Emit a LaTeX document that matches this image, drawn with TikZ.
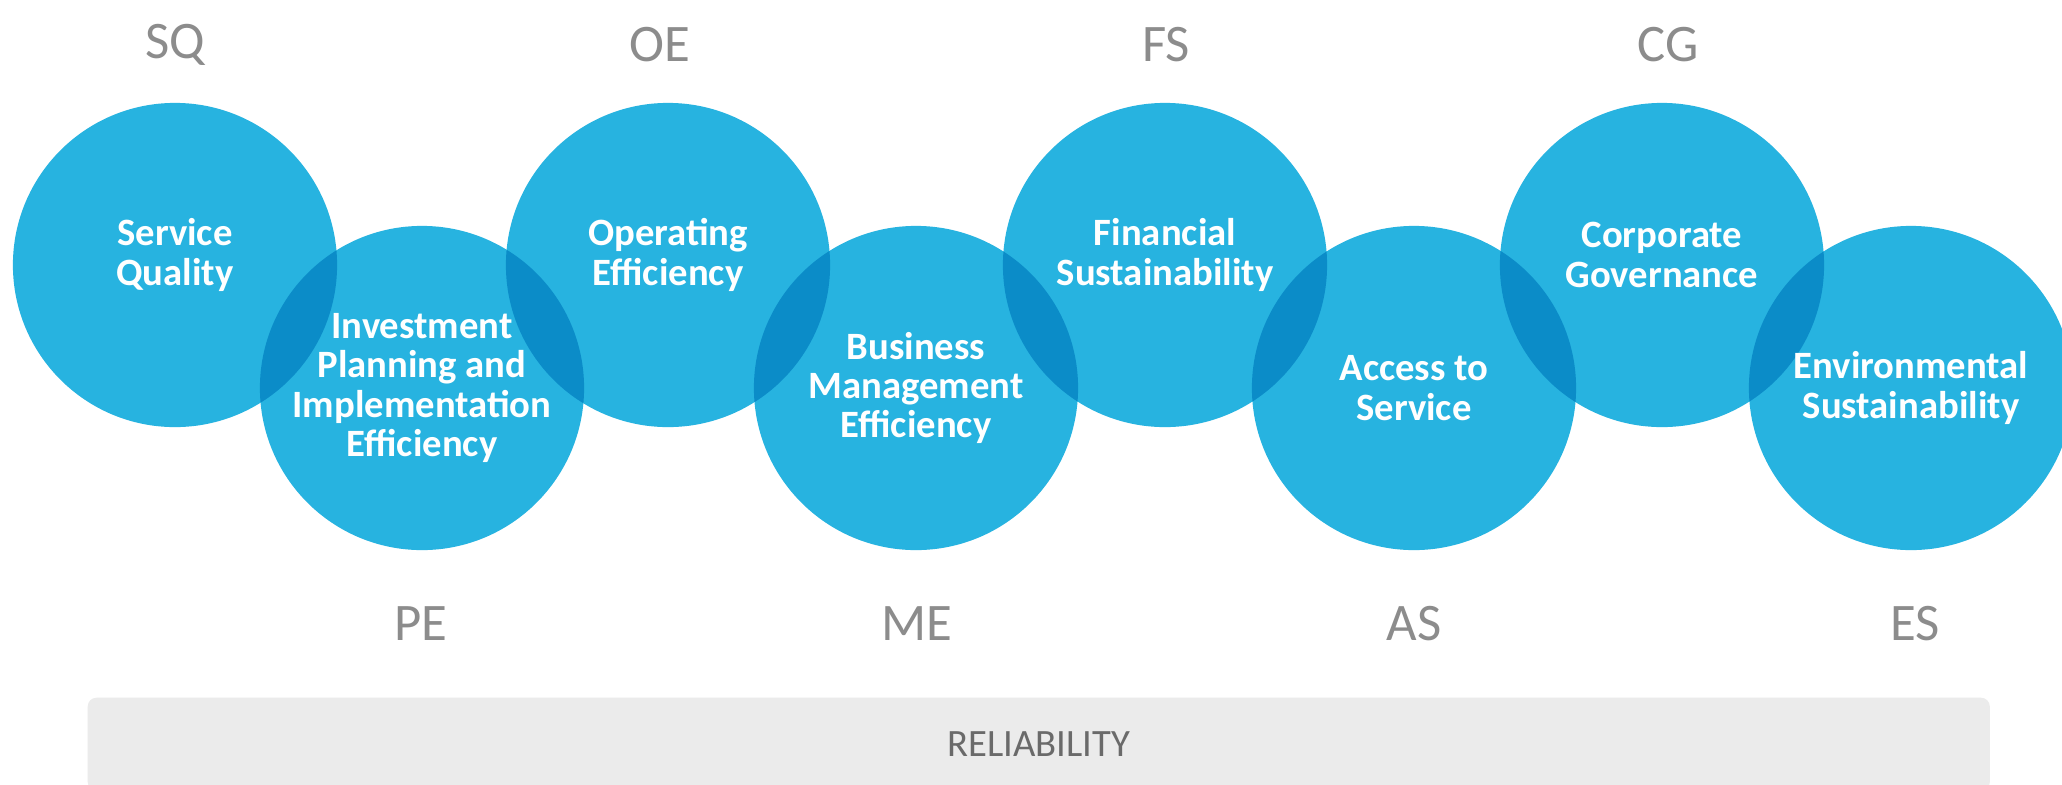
\documentclass[tikz,border=0pt]{standalone}
\usepackage{fontspec}
\setmainfont{Carlito}
\definecolor{cblue}{HTML}{27B3E0}
\definecolor{cdark}{HTML}{0B8CC8}
\definecolor{lblgray}{HTML}{8C8C8C}
\definecolor{bargray}{HTML}{EBEBEB}
\definecolor{bartext}{HTML}{6A6A6A}
\begin{document}
\begin{tikzpicture}[x=0.01cm,y=-0.01cm,
  bubble/.style={circle,fill=cblue,minimum size=3.24cm,inner sep=0pt},
  btext/.style={text=white,font=\fontsize{11}{11.2}\selectfont\bfseries,align=center,inner sep=0pt},
  abbr/.style={text=lblgray,font=\fontsize{15}{15}\selectfont,inner sep=0pt},
  barbox/.style={fill=bargray,rounded corners=2.5pt,minimum width=19.01cm,minimum height=0.93cm,anchor=north west,text=bartext,font=\fontsize{11}{11}\selectfont,inner sep=0pt}
]
\useasboundingbox (0,0) rectangle (2062,784);
\clip (0,0) rectangle (2062,784);
\fill[white] (0,0) rectangle (2062,784);

% circles
\node[bubble] (sq) at (175,265) {};
\node[bubble] (pe) at (422,388) {};
\node[bubble] (oe) at (668,265) {};
\node[bubble] (me) at (916,388) {};
\node[bubble] (fs) at (1165,265) {};
\node[bubble] (as) at (1414,388) {};
\node[bubble] (cg) at (1662,265) {};
\node[bubble] (es) at (1911,388) {};

% overlaps
\foreach \a/\b in {sq/pe,pe/oe,oe/me,me/fs,fs/as,as/cg,cg/es}{
  \begin{scope}
    \clip (\a.center) circle (1.62cm);
    \fill[cdark] (\b.center) circle (1.62cm);
  \end{scope}
}

% circle texts
\node[btext] (sqt) at (175,255) {Service\\Quality};
\node[btext] (pet) at (422,388) {Investment\\Planning and\\Implementation\\Efficiency};
\node[btext] (oet) at (668,255) {Operating\\Efficiency};
\node[btext] (met) at (916,388) {Business\\Management\\Efficiency};
\node[btext] (fst) at (1165,255) {Financial\\Sustainability};
\node[btext] (ast) at (1414,388) {Access to\\Service};
\node[btext] (cgt) at (1662,255) {Corporate\\Governance};
\node[btext] (est) at (1911,388) {Environmental\\Sustainability};

% abbreviations
\node[abbr] (sql) at (175,45) {SQ};
\node[abbr] (oel) at (660,45) {OE};
\node[abbr] (fsl) at (1166,45) {FS};
\node[abbr] (cgl) at (1668,45) {CG};
\node[abbr] (pel) at (421,624) {PE};
\node[abbr] (mel) at (917,624) {ME};
\node[abbr] (asl) at (1414,624) {AS};
\node[abbr] (esl) at (1915,624) {ES};

% reliability bar
\node[barbox] (bar) at (87,697) {RELIABILITY};
\end{tikzpicture}
\end{document}
